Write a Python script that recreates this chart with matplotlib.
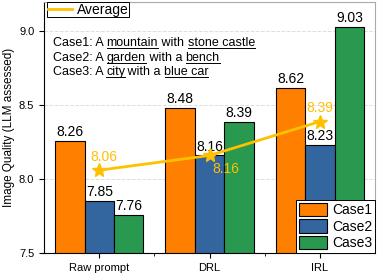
import matplotlib
matplotlib.use("Agg")
import matplotlib.pyplot as plt
import numpy as np
from matplotlib.lines import Line2D
from matplotlib.patches import Patch

plt.rcParams["font.family"] = ["Liberation Sans", "DejaVu Sans"]

methods = ["Raw prompt", "DRL", "IRL"]
case_names = ["Case1", "Case2", "Case3"]
case1 = [8.26, 8.48, 8.62]
case2 = [7.85, 8.16, 8.23]
case3 = [7.76, 8.39, 9.03]
average = [8.06, 8.16, 8.39]

# (text, underlined?) segments for the prompt description
prompt_lines = [
    [("Case1: A ", False), ("mountain", True), (" with ", False), ("stone castle", True)],
    [("Case2: A ", False), ("garden", True), (" with a ", False), ("bench", True)],
    [("Case3: A ", False), ("city", True), (" with a ", False), ("blue car", True)],
]

COLORS = ["#FF8000", "#33659F", "#28994F"]
GOLD = "#FFC000"
PFS = 9  # prompt font size

fig = plt.figure(figsize=(3.9, 2.74), dpi=100)
ax = fig.add_axes([0.113, 0.077, 0.849, 0.916])

x = np.arange(len(methods))
w = 0.267
for i, (vals, c) in enumerate(zip([case1, case2, case3], COLORS)):
    xs = x + (i - 1) * w
    ax.bar(xs, vals, w, color=c, edgecolor="black", linewidth=0.8, zorder=2)
    for xi, v in zip(xs, vals):
        ax.text(xi, v + 0.012, f"{v:.2f}", ha="center", va="bottom", fontsize=10, zorder=3)

ax.plot(x, average, color=GOLD, lw=2, marker="*", ms=10, zorder=4)
avg_offsets = [(3.6, 9.4), (12, -9.4), (0, 10)]
for xi, v, off in zip(x, average, avg_offsets):
    ax.annotate(f"{v:.2f}", (xi, v), xytext=off, textcoords="offset points",
                ha="center", va="center", color=GOLD, fontsize=10, zorder=5)

ax.set_xlim(-0.5, 2.5)
ax.set_ylim(7.5, 9.2)
ax.set_xticks(x)
ax.set_xticklabels(methods, fontsize=8)
ax.set_xticks([0.5, 1.5], minor=True)
ax.tick_params(axis="x", which="minor", length=2.5)
ax.set_yticks([7.5, 8.0, 8.5, 9.0])
ax.set_yticklabels(["7.5", "8.0", "8.5", "9.0"], fontsize=8)
ax.set_ylabel("Image Quality (LLM assessed)", fontsize=8.5, labelpad=3)
ax.grid(axis="y", ls="--", color="#dddddd", lw=0.7, zorder=0)
ax.set_axisbelow(True)
for s in ["top", "right"]:
    ax.spines[s].set_color("#aaaaaa")

leg1 = ax.legend(handles=[Line2D([], [], color=GOLD, lw=2)], labels=["Average"],
                 loc="upper left", fontsize=10, fancybox=False, edgecolor="black",
                 framealpha=1, borderaxespad=0.0, borderpad=0.05, handlelength=1.7,
                 handletextpad=0.35, bbox_to_anchor=(0.01, 1.0))
leg1.get_frame().set_linewidth(0.7)
ax.add_artist(leg1)
leg2 = ax.legend(handles=[Patch(facecolor=c, edgecolor="black", lw=0.8) for c in COLORS],
                 labels=case_names, loc="lower right", fontsize=10, fancybox=False,
                 edgecolor="black", framealpha=1, borderaxespad=0.0, borderpad=0.2,
                 handlelength=2.0, handleheight=1.1, labelspacing=0.15, handletextpad=0.4)
leg2.get_frame().set_linewidth(0.7)

# prompt text with underlined words
fig.canvas.draw()
renderer = fig.canvas.get_renderer()
inv = ax.transAxes.inverted()


def text_width(s):
    t = ax.text(0, 0, s + ".", fontsize=PFS, transform=ax.transAxes)
    d = ax.text(0, 0, ".", fontsize=PFS, transform=ax.transAxes)
    wpx = t.get_window_extent(renderer).width - d.get_window_extent(renderer).width
    t.remove()
    d.remove()
    return wpx


start_px = 53
for li, segs in enumerate(prompt_lines):
    base_px = 274 - 46 - li * 14.7
    cur = start_px
    for s, ul in segs:
        xa, ya = inv.transform((cur, base_px))
        ax.text(xa, ya, s, fontsize=PFS, transform=ax.transAxes, va="baseline", ha="left")
        wpx = text_width(s)
        if ul:
            xa1, yl = inv.transform((cur, base_px - 2))
            xa2, _ = inv.transform((cur + wpx, base_px - 2))
            ax.plot([xa1, xa2], [yl, yl], color="black", lw=0.7, transform=ax.transAxes,
                    clip_on=False)
        cur += wpx

fig.savefig("out.png", dpi=100)
